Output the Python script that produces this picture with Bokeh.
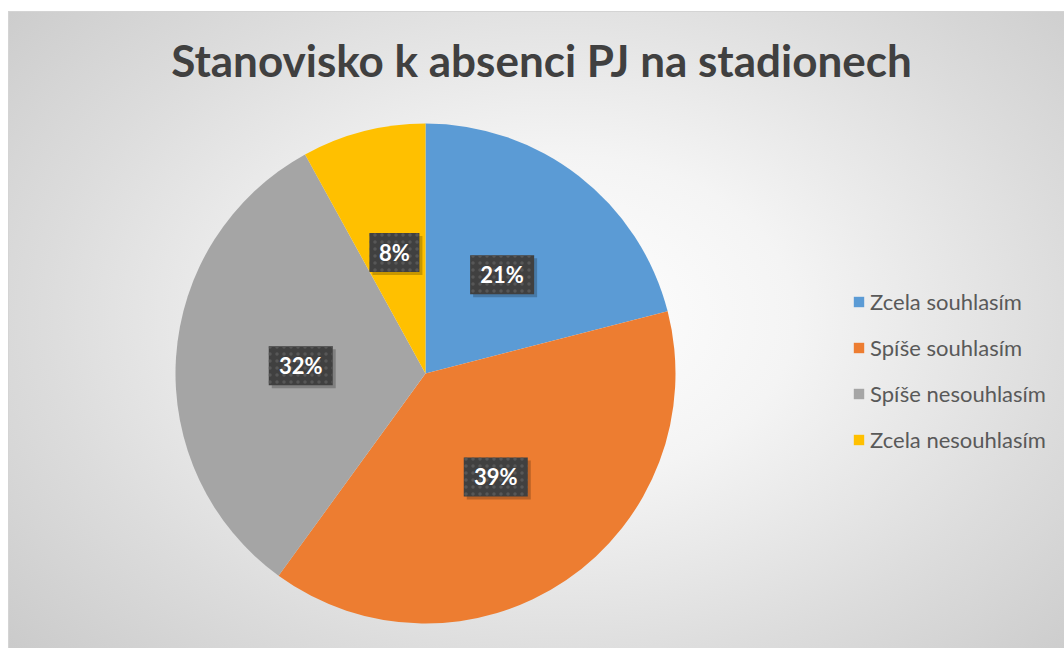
import math
from bokeh.plotting import figure
from bokeh.models import ColumnDataSource, Label, Legend, LegendItem
from bokeh.core.properties import value
from bokeh.embed import file_html
from bokeh.resources import INLINE

categories = ["Zcela souhlasím", "Spíše souhlasím", "Spíše nesouhlasím", "Zcela nesouhlasím"]
values = [21, 39, 32, 8]
labels = ["21%", "39%", "32%", "8%"]
colors = ["#5B9BD5", "#ED7D31", "#A5A5A5", "#FFC000"]

total = float(sum(values))
starts, ends, lx, ly, bw = [], [], [], [], []
cum = 0.0
for v, lab in zip(values, labels):
    a0 = math.pi / 2 - 2 * math.pi * cum / total
    a1 = math.pi / 2 - 2 * math.pi * (cum + v) / total
    mid = math.pi / 2 - 2 * math.pi * (cum + v / 2) / total
    starts.append(a0)
    ends.append(a1)
    lx.append(0.5 * math.cos(mid))
    ly.append(0.5 * math.sin(mid))
    bw.append(50 if len(lab) == 2 else 64)
    cum += v

src = ColumnDataSource(dict(cat=categories, start=starts, end=ends, color=colors,
                            lx=lx, ly=ly, lab=labels, bw=bw,
                            sx=[x + 0.012 for x in lx], sy=[y - 0.012 for y in ly]))

W, H = 1064, 648
scale = 250.0
cx, cy = 425, 373
bg = ("radial-gradient(ellipse 75% 85% at 52% 48%, #ffffff 0%, #f4f4f4 30%, #dcdcdc 65%, #c6c6c6 100%) "
      "9px 12px / 1055px 636px no-repeat, "
      "linear-gradient(#d4d4d4, #d4d4d4) 8px 11px / 1056px 637px no-repeat, #ffffff")
p = figure(width=W, height=H, output_backend="svg", toolbar_location=None,
           x_range=(-cx / scale, (W - cx) / scale),
           y_range=(-(H - cy) / scale, cy / scale),
           min_border=0, outline_line_color=None,
           background_fill_alpha=0, border_fill_alpha=0,
           styles={"background": bg})
p.axis.visible = False
p.xgrid.visible = False
p.ygrid.visible = False

r = p.wedge(x=0, y=0, radius=1, start_angle="start", end_angle="end", direction="clock",
            fill_color="color", line_color=None, source=src)

# label boxes (shadow + box)
p.rect(x="sx", y="sy", width="bw", height=39, width_units="screen", height_units="screen",
       fill_color="black", fill_alpha=0.22, line_color=None, source=src)
p.rect(x="lx", y="ly", width="bw", height=39, width_units="screen", height_units="screen",
       fill_color="#404040", line_color=None, hatch_pattern="dot", hatch_color="#575757",
       hatch_scale=7, hatch_weight=1.5, source=src)
p.text(x="lx", y="ly", text="lab", text_align="center", text_baseline="middle",
       text_font=value("Lato"), text_font_style="bold", text_font_size="22px",
       text_color="white", source=src)

title = Label(x=541, y=H - 59, x_units="screen", y_units="screen",
              text="Stanovisko k absenci PJ na stadionech",
              text_align="center", text_baseline="middle",
              text_font="Lato", text_font_style="bold", text_font_size="44px",
              text_color="#404040")
p.add_layout(title)

legend = Legend(location=(852, 195))
legend.items = [LegendItem(label=categories[i], renderers=[r], index=i) for i in range(len(categories))]
legend.label_text_font = "Lato"
legend.label_text_font_size = "22px"
legend.label_text_color = "#595959"
legend.glyph_width = 13
legend.glyph_height = 13
legend.label_standoff = 5
legend.label_height = 24
legend.spacing = 19
legend.padding = 0
legend.margin = 0
legend.background_fill_alpha = 0
legend.border_line_alpha = 0
p.add_layout(legend)

open("out.html", "w").write(file_html(p, INLINE))
